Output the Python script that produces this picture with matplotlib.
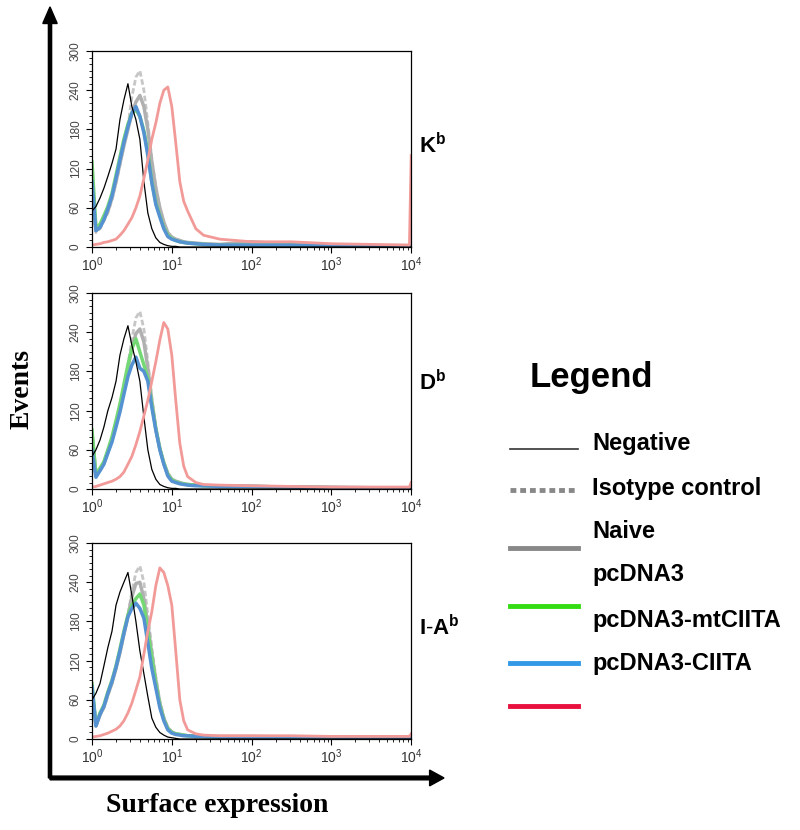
import matplotlib
matplotlib.use("Agg")
import matplotlib.pyplot as plt
from matplotlib.ticker import MultipleLocator, LogLocator, NullFormatter

plt.rcParams['font.family'] = ['Liberation Sans', 'DejaVu Sans']
plt.rcParams['mathtext.fontset'] = 'custom'
plt.rcParams['mathtext.rm'] = 'Liberation Sans'
plt.rcParams['mathtext.bf'] = 'Liberation Sans:bold'

# fluorescence channels (log scale, 10^0 .. 10^4)
channels = [1.0, 1.12, 1.26, 1.41, 1.58, 1.78, 2.0, 2.24, 2.51, 2.82, 3.16, 3.55,
            3.98, 4.47, 5.01, 5.62, 6.31, 7.08, 7.94, 8.91, 10.0, 11.2, 12.6, 14.1,
            15.8, 20, 25, 40, 100, 316, 1000, 3162, 9500, 10000]

# K^b panel
negative_k = [55, 62, 75, 90, 108, 128, 150, 195, 225, 250, 215, 195, 165, 100, 52, 28, 14, 7, 4, 2,
              1, 1, 0, 0, 0, 0, 0, 0, 0, 0, 0, 0, 0, 0]
isotype_k = [80, 22, 28, 40, 52, 72, 98, 125, 155, 185, 230, 260, 270, 240, 190, 135, 92, 60, 38, 22,
             15, 12, 10, 8, 7, 6, 5, 4, 6, 4, 3, 2, 2, 2]
naive_k = [90, 25, 30, 42, 55, 75, 100, 128, 155, 180, 205, 222, 232, 215, 180, 130, 90, 60, 38, 22,
           15, 12, 10, 8, 7, 6, 5, 4, 8, 4, 3, 2, 2, 2]
pcdna3_k = [130, 30, 35, 48, 62, 82, 110, 138, 165, 188, 205, 210, 200, 178, 145, 100, 68, 48, 30, 18,
            13, 10, 8, 7, 6, 5, 4, 3, 3, 3, 2, 2, 2, 2]
mtciita_k = [100, 25, 30, 42, 58, 78, 105, 133, 160, 184, 205, 215, 200, 175, 140, 98, 65, 46, 28, 16,
             12, 10, 8, 7, 6, 5, 4, 3, 3, 3, 2, 2, 2, 2]
ciita_k = [3, 4, 5, 7, 8, 10, 12, 18, 25, 35, 45, 60, 78, 105, 133, 165, 190, 220, 240, 245,
           215, 160, 100, 70, 55, 28, 18, 12, 8, 8, 5, 4, 3, 140]

# D^b panel
negative_d = [50, 60, 75, 95, 120, 140, 165, 205, 230, 250, 220, 195, 165, 110, 60, 30, 15, 7, 4, 2,
              1, 1, 0, 0, 0, 0, 0, 0, 0, 0, 0, 0, 0, 0]
isotype_d = [75, 20, 28, 40, 55, 75, 100, 128, 158, 190, 230, 262, 272, 245, 195, 140, 95, 62, 40, 24,
             15, 12, 10, 8, 7, 6, 5, 5, 4, 3, 3, 2, 2, 2]
naive_d = [85, 22, 30, 40, 56, 76, 100, 127, 155, 185, 215, 238, 245, 225, 185, 135, 92, 62, 40, 24,
           15, 12, 10, 8, 7, 6, 5, 5, 4, 3, 3, 2, 2, 2]
pcdna3_d = [90, 22, 32, 42, 60, 80, 105, 130, 160, 190, 215, 230, 210, 190, 170, 130, 92, 62, 40, 22,
            14, 11, 9, 8, 7, 6, 5, 4, 4, 3, 2, 2, 2, 2]
mtciita_d = [60, 18, 28, 38, 55, 72, 95, 118, 145, 172, 190, 202, 185, 180, 165, 125, 90, 60, 38, 20,
             12, 10, 8, 7, 6, 5, 5, 4, 4, 3, 2, 2, 2, 2]
ciita_d = [3, 4, 6, 8, 10, 12, 15, 19, 26, 38, 50, 68, 88, 112, 136, 165, 195, 228, 255, 245,
           205, 136, 70, 35, 19, 10, 7, 6, 5, 4, 3, 3, 3, 10]

# I-A^b panel
negative_i = [60, 70, 85, 112, 140, 165, 205, 225, 240, 255, 220, 180, 135, 100, 65, 32, 18, 10, 6, 3,
              2, 1, 0, 0, 0, 0, 0, 0, 0, 0, 0, 0, 0, 0]
isotype_i = [70, 20, 36, 48, 66, 85, 108, 132, 160, 190, 225, 255, 265, 240, 190, 140, 95, 58, 34, 18,
             11, 8, 7, 6, 5, 5, 4, 4, 4, 3, 3, 3, 3, 3]
naive_i = [75, 20, 37, 49, 68, 86, 108, 132, 160, 188, 218, 238, 240, 215, 175, 130, 90, 55, 32, 17,
           11, 8, 7, 6, 5, 5, 4, 4, 4, 3, 3, 3, 3, 3]
pcdna3_i = [85, 22, 40, 52, 72, 90, 112, 138, 165, 190, 205, 215, 222, 205, 165, 125, 85, 52, 30, 16,
            10, 8, 7, 6, 5, 4, 4, 3, 3, 3, 3, 2, 2, 2]
mtciita_i = [80, 20, 38, 50, 70, 88, 110, 135, 162, 187, 200, 208, 200, 185, 147, 108, 78, 48, 28, 14,
             9, 7, 6, 5, 5, 4, 4, 3, 3, 3, 3, 2, 2, 2]
ciita_i = [3, 4, 5, 7, 9, 12, 15, 20, 28, 40, 55, 75, 95, 130, 165, 195, 235, 262, 255, 235,
           205, 135, 60, 28, 14, 8, 6, 5, 5, 5, 4, 4, 4, 8]

panel_labels = [r'$\mathbf{K^b}$', r'$\mathbf{D^b}$', r'$\mathbf{I\text{-}A^b}$']
legend_labels = ['Negative', 'Isotype control', 'Naive', 'pcDNA3', 'pcDNA3-mtCIITA', 'pcDNA3-CIITA']
y_ticks = [0, 60, 120, 180, 240, 300]

panels = [
    [isotype_k, naive_k, pcdna3_k, mtciita_k, negative_k, ciita_k],
    [isotype_d, naive_d, pcdna3_d, mtciita_d, negative_d, ciita_d],
    [isotype_i, naive_i, pcdna3_i, mtciita_i, negative_i, ciita_i],
]
# plot styles, same order as the lists above
plot_styles = [
    dict(color='#c6c6c6', lw=2.0, ls=(0, (2, 1))),
    dict(color='#b0b0b0', lw=2.5),
    dict(color='#74d874', lw=2.5),
    dict(color='#5592d2', lw=2.5),
    dict(color='black', lw=0.9),
    dict(color='#f29a98', lw=2.0),
]

fig = plt.figure(figsize=(8, 8.3), dpi=100)

bottoms = [0.7024, 0.4108, 0.1096]
label_y = [0.825, 0.5386, 0.2434]
for p in range(3):
    ax = fig.add_axes([0.115, bottoms[p], 0.399, 0.2361])
    for series, st in zip(panels[p], plot_styles):
        ax.plot(channels, series, **st)
    ax.set_xscale('log')
    ax.set_xlim(1, 10000)
    ax.set_ylim(0, 300)
    ax.set_yticks(y_ticks)
    ax.yaxis.set_minor_locator(MultipleLocator(10))
    ax.xaxis.set_major_locator(LogLocator(base=10))
    ax.xaxis.set_minor_locator(LogLocator(base=10, subs=range(2, 10)))
    ax.xaxis.set_minor_formatter(NullFormatter())
    ax.tick_params(axis='y', labelsize=8.5, labelrotation=90, length=4, width=0.8, labelcolor='#444444')
    ax.tick_params(axis='x', labelsize=10, length=4, width=0.8, labelcolor='#333333', pad=2)
    ax.tick_params(which='minor', length=2, width=0.6)
    for lab in ax.get_yticklabels():
        lab.set_va('center')
    for s in ax.spines.values():
        s.set_linewidth(0.9)
    fig.text(0.524, label_y[p], panel_labels[p], fontsize=16, va='center', ha='left')

# big axis arrows
fig.add_artist(matplotlib.patches.FancyArrow(0.0625, 0.0627, 0, 0.929, width=0.004,
                                             head_width=0.018, head_length=0.02,
                                             length_includes_head=True, color='black',
                                             transform=fig.transFigure))
fig.add_artist(matplotlib.patches.FancyArrow(0.0625, 0.0627, 0.4925, 0, width=0.0045,
                                             head_width=0.019, head_length=0.018,
                                             length_includes_head=True, color='black',
                                             transform=fig.transFigure))
fig.text(0.028, 0.531, 'Events', rotation=90, fontsize=20, fontweight='bold',
         family='Liberation Serif', ha='center', va='center')
fig.text(0.272, 0.030, 'Surface expression', fontsize=20, fontweight='bold',
         family='Liberation Serif', ha='center', va='center')

# legend (text and lines drawn as in the original figure)
fig.text(0.6625, 0.5446, 'Legend', fontsize=25, fontweight='bold', ha='left', va='center')
text_y = [443, 488, 531, 575, 620, 663]
for lab, ty in zip(legend_labels, text_y):
    fig.text(0.74, 1 - ty / 830, lab, fontsize=17, fontweight='bold', ha='left', va='center')
legend_styles = [
    dict(color='#333333', lw=1.2),
    dict(color='#888888', lw=3.5, ls=(0, (1.2, 0.8))),
    dict(color='#888888', lw=3.5),
    dict(color='#33dd11', lw=3.5),
    dict(color='#3399e6', lw=3.5),
    dict(color='#e8103c', lw=3.5),
]
line_y = [449, 490, 548, 606, 663, 706]
for ly, st in zip(line_y, legend_styles):
    fig.add_artist(plt.Line2D([0.6375, 0.7225], [1 - ly / 830, 1 - ly / 830],
                              transform=fig.transFigure, **st))

fig.savefig('out.png', dpi=100)
